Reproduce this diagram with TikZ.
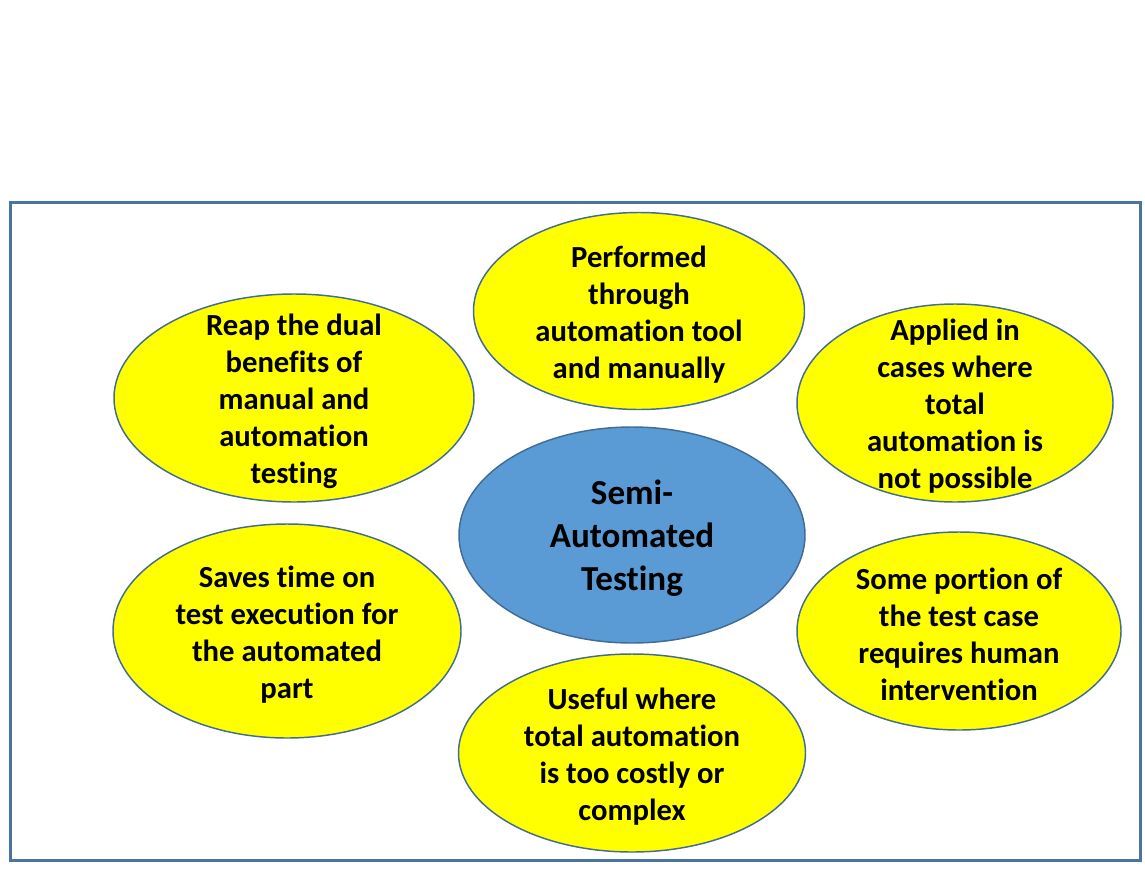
\documentclass[tikz,border=0pt]{standalone}
\usepackage{fontspec}
\setmainfont{Carlito}[Ligatures={NoCommon,NoContextual}]
\usetikzlibrary{shapes.geometric}
\definecolor{framec}{RGB}{74,117,160}
\definecolor{edgec}{RGB}{65,108,150}
\definecolor{bluefill}{RGB}{91,155,213}
\definecolor{yel}{RGB}{255,255,0}
\begin{document}
\begin{tikzpicture}[x=0.75pt,y=-0.75pt,
  ell/.style={ellipse,draw=edgec,line width=1.1pt,inner sep=0pt,outer sep=0pt},
  yell/.style={ell,fill=yel},
  cell/.style={ell,fill=bluefill},
  txt/.style={align=center,inner sep=0pt,yshift=-2.4pt,font=\fontsize{23}{27.75}\selectfont\bfseries},
  ctxt/.style={align=center,inner sep=0pt,yshift=-2.4pt,font=\fontsize{26.3}{32.25}\selectfont\bfseries}]
\useasboundingbox (0,0) rectangle (1145,881);
\draw[framec,line width=2.25pt] (10,202) rectangle (1140,860);
% ellipses
\node[yell,minimum width=360*0.75pt,minimum height=208*0.75pt] (e1) at (294,398) {};
\node[yell,minimum width=331*0.75pt,minimum height=197*0.75pt] (e2) at (639,311) {};
\node[yell,minimum width=316*0.75pt,minimum height=198*0.75pt] (e3) at (955,403) {};
\node[cell,minimum width=346*0.75pt,minimum height=216*0.75pt] (c) at (632,535) {};
\node[yell,minimum width=348*0.75pt,minimum height=214*0.75pt] (e4) at (287,631) {};
\node[yell,minimum width=324*0.75pt,minimum height=198*0.75pt] (e5) at (959,631) {};
\node[yell,minimum width=347*0.75pt,minimum height=198*0.75pt] (e6) at (632,753) {};
% texts
\node[txt] (t1) at (e1) {Reap the dual\\benefits of\\manual and\\automation\\testing};
\node[txt] (t2) at (e2) {Performed\\through\\automation tool\\and manually};
\node[txt] (t3) at (e3) {Applied in\\cases where\\total\\automation is\\not possible};
\node[ctxt] (tc) at (c) {Semi-\\Automated\\Testing};
\node[txt] (t4) at (e4) {Saves time on\\test execution for\\the automated\\part};
\node[txt] (t5) at (e5) {Some portion of\\the test case\\requires human\\intervention};
\node[txt] (t6) at (e6) {Useful where\\total automation\\is too costly or\\complex};
\end{tikzpicture}
\end{document}
